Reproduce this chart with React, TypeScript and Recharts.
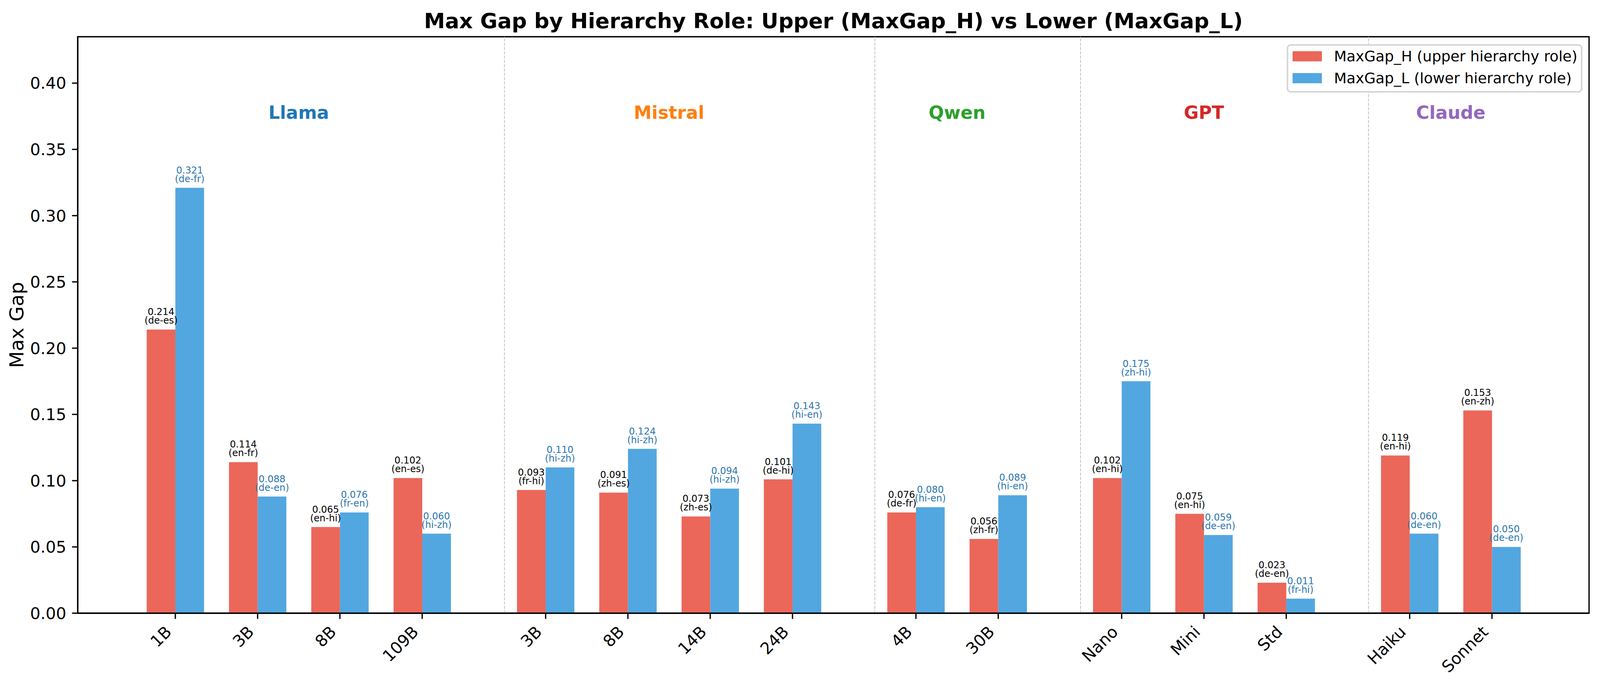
import React from 'react';
import {
  Bar,
  BarChart,
  Label,
  LabelList,
  Legend,
  ReferenceArea,
  ReferenceDot,
  ReferenceLine,
  XAxis,
  YAxis,
} from 'recharts';

const groupNames = ['Llama', 'Mistral', 'Qwen', 'GPT', 'Claude'];
const groupColors = ['#1f77b4', '#ff7f0e', '#2ca02c', '#d62728', '#9467bd'];
const groupSizes = [4, 4, 2, 3, 2];

const modelLabels = ['1B', '3B', '8B', '109B', '3B', '8B', '14B', '24B', '4B', '30B', 'Nano', 'Mini', 'Std', 'Haiku', 'Sonnet'];

const maxGapH = [0.214, 0.114, 0.065, 0.102, 0.093, 0.091, 0.073, 0.101, 0.076, 0.056, 0.102, 0.075, 0.023, 0.119, 0.153];
const maxGapL = [0.321, 0.088, 0.076, 0.06, 0.11, 0.124, 0.094, 0.143, 0.08, 0.089, 0.175, 0.059, 0.011, 0.06, 0.05];

const pairsH = ['de-es', 'en-fr', 'en-hi', 'en-es', 'fr-hi', 'zh-es', 'zh-es', 'de-hi', 'de-fr', 'zh-fr', 'en-hi', 'en-hi', 'de-en', 'en-hi', 'en-zh'];
const pairsL = ['de-fr', 'de-en', 'fr-en', 'hi-zh', 'hi-zh', 'hi-zh', 'hi-zh', 'hi-en', 'hi-en', 'hi-en', 'zh-hi', 'de-en', 'fr-hi', 'de-en', 'de-en'];

const yTicks = [0, 0.05, 0.1, 0.15, 0.2, 0.25, 0.3, 0.35, 0.4];

// the browser caps the page at 4096px wide, so horizontal layout is squeezed to fit
const W = 4096;
const H = 1763;
const K = W / 4461;
const Y_AXIS_W = Math.round(217 * K);
const RIGHT = Math.round(31 * K);
const TOP = 94;
const X_AXIS_H = 194;
const BAR_W = 80 * K;

const FONT = '"DejaVu Sans", sans-serif';
const RED = '#EB6759';
const BLUE = '#52A7E0';
const BLUE_TEXT = '#2a75ad';
const X_DOMAIN: [number, number] = [-1.186, 17.18];
const Y_DOMAIN: [number, number] = [0, 0.435];
const GROUP_LABEL_Y = 0.378;

// one unit between models of a family, an extra half unit between families
const positions: number[] = [];
const groupStarts: number[] = [];
const groupCenters: number[] = [];
let cursor = 0;
groupSizes.forEach((n, g) => {
  if (g > 0) cursor += 0.5;
  groupStarts.push(cursor);
  for (let i = 0; i < n; i++) positions.push(cursor + i);
  groupCenters.push(cursor + (n - 1) / 2);
  cursor += n;
});

const chartData = positions.map((pos, i) => ({ pos, h: maxGapH[i], l: maxGapL[i] }));

const XTick = (props: any) => {
  const { x, y, payload } = props;
  const i = positions.indexOf(payload.value);
  return (
    <g transform={`translate(${x},${y})`}>
      <text
        x={-7}
        y={36}
        textAnchor="end"
        transform="rotate(-45 -7 36)"
        fontSize={41.7}
        fontFamily={FONT}
        fill="#000"
      >
        {modelLabels[i]}
      </text>
    </g>
  );
};

const makeValueLabel = (pairs: string[], color: string) => (props: any) => {
  const vb = props.viewBox ?? props;
  const cx = Number(vb.x) + Number(vb.width) / 2;
  const top = Number(vb.y);
  return (
    <text textAnchor="middle" fontSize={24} fontFamily={FONT} fill={color}>
      <tspan x={cx} y={top - 37}>
        {Number(props.value).toFixed(3)}
      </tspan>
      <tspan x={cx} y={top - 15}>
        ({pairs[props.index]})
      </tspan>
    </text>
  );
};

const YTitle = (props: any) => {
  const vb = props.viewBox;
  const x = vb.x + 60;
  const y = vb.y + vb.height / 2;
  return (
    <text x={x} y={y} transform={`rotate(-90 ${x} ${y})`} textAnchor="middle" fontSize={50} fontFamily={FONT} fill="#000">
      Max Gap
    </text>
  );
};

const LegendBox = (props: any) => (
  <div
    style={{
      boxSizing: 'border-box',
      width: '100%',
      height: '100%',
      border: '4px solid #d6d6d6',
      borderRadius: 10,
      background: 'rgba(255,255,255,0.8)',
      position: 'relative',
      fontFamily: FONT,
      fontSize: 37.5,
      color: '#000',
    }}
  >
    {(props.payload || []).map((e: any, i: number) => (
      <div
        key={e.value}
        style={{ position: 'absolute', left: 11, top: 14 + i * 56, height: 26, display: 'flex', alignItems: 'center' }}
      >
        <span style={{ display: 'inline-block', width: 75, height: 26, background: e.color }} />
        <span style={{ marginLeft: 31, lineHeight: '26px', whiteSpace: 'nowrap' }}>{e.value}</span>
      </div>
    ))}
  </div>
);

export default function App() {
  const plotRight = W - RIGHT;
  const legendW = 757;
  return (
    <div style={{ position: 'relative', width: W, height: H, background: '#fff', overflow: 'hidden' }}>
      <style>{'body{margin:0}'}</style>
      <BarChart
        width={W}
        height={H}
        data={chartData}
        margin={{ top: TOP, right: RIGHT, bottom: 0, left: 0 }}
        barGap={0}
        barSize={BAR_W}
      >
        <XAxis
          dataKey="pos"
          type="number"
          domain={X_DOMAIN}
          allowDataOverflow
          ticks={positions}
          interval={0}
          height={X_AXIS_H}
          tickSize={14.6}
          tickMargin={0}
          tick={<XTick />}
          tickLine={{ stroke: '#000', strokeWidth: 3.3 }}
          axisLine={{ stroke: '#000', strokeWidth: 3.3 }}
        />
        <YAxis
          type="number"
          domain={Y_DOMAIN}
          allowDataOverflow
          ticks={yTicks}
          interval={0}
          width={Y_AXIS_W}
          tickSize={14.6}
          tickMargin={14.6}
          tickFormatter={(v: number) => v.toFixed(2)}
          tick={{ fontSize: 41.7, fill: '#000', fontFamily: FONT }}
          tickLine={{ stroke: '#000', strokeWidth: 3.3 }}
          axisLine={{ stroke: '#000', strokeWidth: 3.3 }}
        >
          <Label content={<YTitle />} />
        </YAxis>

        {groupStarts.slice(1).map((s) => (
          <ReferenceLine key={s} x={s - 0.5} stroke="#c2c2c2" strokeWidth={2} strokeDasharray="7.7 3.3" />
        ))}

        <Bar dataKey="h" name="MaxGap_H (upper hierarchy role)" fill={RED} isAnimationActive={false}>
          <LabelList dataKey="h" content={makeValueLabel(pairsH, '#000')} />
        </Bar>
        <Bar dataKey="l" name="MaxGap_L (lower hierarchy role)" fill={BLUE} isAnimationActive={false}>
          <LabelList dataKey="l" content={makeValueLabel(pairsL, BLUE_TEXT)} />
        </Bar>

        {groupNames.map((name, g) => (
          <ReferenceDot
            key={name}
            x={groupCenters[g]}
            y={GROUP_LABEL_Y}
            r={0}
            fill="none"
            stroke="none"
            label={{
              value: name,
              position: 'center',
              fill: groupColors[g],
              fontSize: 46,
              fontWeight: 'bold',
              fontFamily: FONT,
            }}
          />
        ))}

        <ReferenceArea
          x1={X_DOMAIN[0]}
          x2={X_DOMAIN[1]}
          y1={Y_DOMAIN[0]}
          y2={Y_DOMAIN[1]}
          fill="none"
          fillOpacity={0}
          stroke="#000"
          strokeWidth={3.3}
        />

        <Legend
          layout="horizontal"
          verticalAlign="middle"
          align="center"
          content={<LegendBox />}
          wrapperStyle={{ left: plotRight - 17 - legendW, top: 113, width: legendW, height: 124 }}
        />
      </BarChart>
      <svg width={W} height={TOP} style={{ position: 'absolute', left: 0, top: 0 }}>
        <text
          x={(Y_AXIS_W + plotRight) / 2}
          y={72}
          textAnchor="middle"
          fontSize={54}
          fontWeight="bold"
          fontFamily={FONT}
          fill="#000"
        >
          Max Gap by Hierarchy Role: Upper (MaxGap_H) vs Lower (MaxGap_L)
        </text>
      </svg>
    </div>
  );
}
